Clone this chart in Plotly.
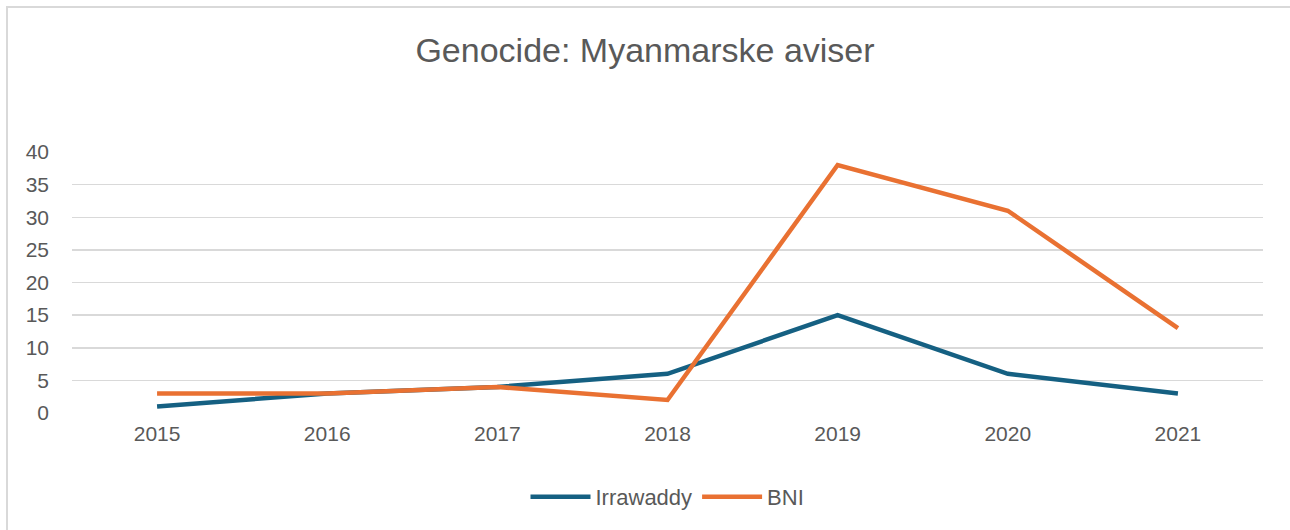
import plotly.graph_objects as go

years = ["2015", "2016", "2017", "2018", "2019", "2020", "2021"]
irrawaddy = [1, 3, 4, 6, 15, 6, 3]
bni = [3, 3, 4, 2, 38, 31, 13]
y_ticks = [0, 5, 10, 15, 20, 25, 30, 35, 40]

W, H = 1290, 530
L, R, T, B = 72, 27, 152, 117
pw, ph = W - L - R, H - T - B

fig = go.Figure()
fig.add_trace(go.Scatter(x=years, y=irrawaddy, mode="lines", name="Irrawaddy",
                         line=dict(color="#156082", width=4.5)))
fig.add_trace(go.Scatter(x=years, y=bni, mode="lines", name="BNI",
                         line=dict(color="#E97132", width=4.5)))

font = "Liberation Sans, Arial, sans-serif"
fig.update_layout(
    width=W, height=H,
    margin=dict(l=L, r=R, t=T, b=B),
    paper_bgcolor="white", plot_bgcolor="white",
    title=dict(text="Genocide: Myanmarske aviser", x=0.5, xanchor="center",
               y=1 - 50 / H, yanchor="middle",
               font=dict(family=font, size=34, color="#595959")),
    font=dict(family=font, size=21, color="#595959"),
    showlegend=True,
    legend=dict(orientation="h", x=0.5, xanchor="center",
                y=(T + ph - 497) / ph, yanchor="middle",
                font=dict(size=22, color="#595959"),
                itemwidth=60, tracegroupgap=0),
    xaxis=dict(type="category", range=[-0.5, 6.5], showgrid=False,
               showline=False, zeroline=False, ticks="",
               ticklabelstandoff=6,
               tickfont=dict(size=21, color="#595959")),
    yaxis=dict(range=[0, 40], tickvals=y_ticks, showgrid=True,
               gridcolor="#d9d9d9", gridwidth=1.5, zeroline=False,
               showline=False, ticks="", ticklabelstandoff=22,
               tickfont=dict(size=21, color="#595959")),
    hovermode=False,
)

fig.add_shape(type="path", xref="paper", yref="paper",
              path=f"M {(7 - L) / pw},{-(H + 10 - T - ph) / ph} L {(7 - L) / pw},{1 + (T - 7) / ph} L {(W + 10 - L) / pw},{1 + (T - 7) / ph}",
              line=dict(color="#d9d9d9", width=2), layer="below")

fig.write_html("out.html", config={"displayModeBar": False, "staticPlot": True})

with open("out.html", "r", encoding="utf-8") as f:
    html = f.read()
html = html.replace("<head>", "<head><style>html,body{margin:0;padding:0;overflow:hidden;}</style>", 1)
with open("out.html", "w", encoding="utf-8") as f:
    f.write(html)
